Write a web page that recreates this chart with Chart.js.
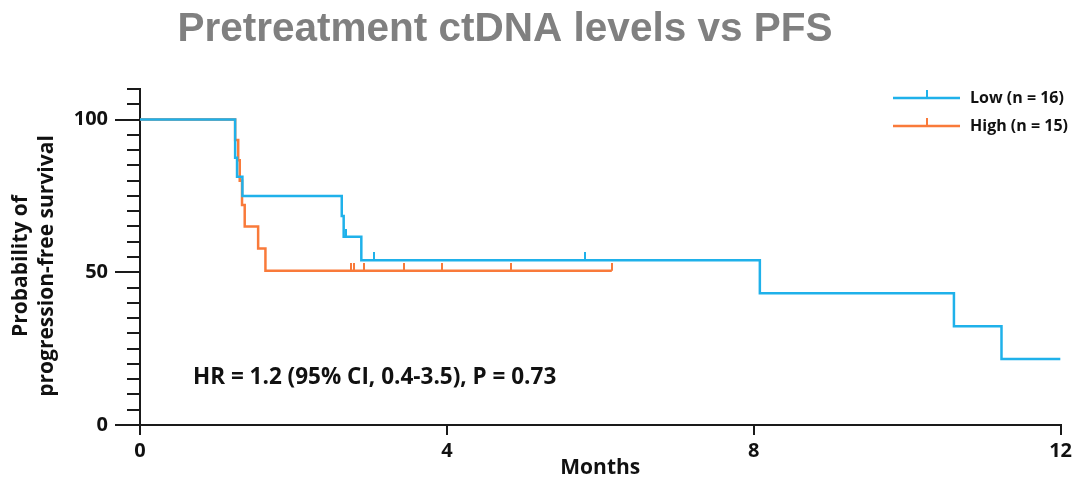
<!DOCTYPE html>
<html>
<head>
<meta charset="utf-8">
<script src="https://cdn.jsdelivr.net/npm/chart.js@4.4.1/dist/chart.umd.min.js"></script>
<style>
  html, body { margin: 0; padding: 0; background: #fff; }
  canvas { display: block; }
</style>
</head>
<body>
<canvas id="km" width="1076" height="481"></canvas>
<script>
// ============================================================
// DATOS
// ============================================================

// Curva Low (n = 16): tiempo de cada escalón y supervivencia tras él
const lowMonths = [0, 1.24, 1.265, 1.335, 2.63, 2.655, 2.885, 8.08, 10.61, 11.23, 12];
const lowSurv   = [100, 87.5, 81.3, 75, 68.4, 61.6, 53.9, 43.1, 32.3, 21.6, 21.6];
const lowCensorMonths = [2.68, 3.05, 5.80];
const lowCensorSurv   = [61.6, 53.9, 53.9];

// Curva High (n = 15)
const highMonths = [0, 1.24, 1.28, 1.30, 1.33, 1.365, 1.54, 1.635, 6.15];
const highSurv   = [100, 93.3, 86.7, 80, 72, 65, 57.8, 50.5, 50.5];
const highCensorMonths = [2.755, 2.785, 2.92, 3.44, 3.94, 4.83, 6.15];
const highCensorSurv   = [50.5, 50.5, 50.5, 50.5, 50.5, 50.5, 50.5];

const seriesLabels = ['Low (n = 16)', 'High (n = 15)'];
const xTicks = [0, 4, 8, 12];
const yMajorTicks = [0, 50, 100];

const TITLE = 'Pretreatment ctDNA levels vs PFS';
const NOTE = 'HR = 1.2 (95% CI, 0.4-3.5), P = 0.73';
const Y_TITLE = ['Probability of', 'progression-free survival'];

// ============================================================
// ESTILO
// ============================================================
const BLUE = '#1FB1EA';
const ORANGE = '#F97A3A';
const AXIS = '#1a1a1a';
const FONT = "'Open Sans', 'DejaVu Sans', sans-serif";
const LINE_W = 2.5;

/** Marca de censura: trazo vertical hacia arriba */
function censorMark(color) {
  const c = document.createElement('canvas');
  c.width = 2;
  c.height = 16;
  const g = c.getContext('2d');
  g.fillStyle = color;
  g.fillRect(0, 0, 2, 8);
  return c;
}

const toPoints = (xs, ys) => xs.map((x, i) => ({ x, y: ys[i] }));

function stepDataset(label, xs, ys, color) {
  return {
    label,
    data: toPoints(xs, ys),
    showLine: true,
    stepped: true,
    borderColor: color,
    borderWidth: LINE_W,
    pointRadius: 0,
    pointHoverRadius: 0,
  };
}

function censorDataset(xs, ys, color) {
  return {
    label: '',
    data: toPoints(xs, ys),
    showLine: false,
    pointStyle: censorMark(color),
    pointRadius: 3,
    pointHoverRadius: 3,
  };
}

// ============================================================
// DECORACIÓN: título, leyenda, nota, título Y y ticks mayores
// ============================================================
const decorPlugin = {
  id: 'decor',
  afterDraw(chart) {
    const { ctx } = chart;
    const yScale = chart.scales.y;
    ctx.save();

    // Ticks mayores del eje Y (más largos)
    ctx.strokeStyle = AXIS;
    ctx.lineWidth = 2;
    yMajorTicks.forEach(v => {
      const py = Math.round(yScale.getPixelForValue(v));
      ctx.beginPath();
      ctx.moveTo(115, py);
      ctx.lineTo(128, py);
      ctx.stroke();
    });

    // Título
    ctx.font = "bold 40.5px 'Liberation Sans', Arial, sans-serif";
    ctx.fillStyle = '#808080';
    ctx.textAlign = 'center';
    ctx.textBaseline = 'middle';
    ctx.fillText(TITLE, 505, 30);

    // Título del eje Y (dos líneas, rotado)
    ctx.save();
    ctx.translate(0, 266);
    ctx.rotate(-Math.PI / 2);
    ctx.font = `bold 21px ${FONT}`;
    ctx.fillStyle = '#111';
    ctx.fillText(Y_TITLE[0], 0, 21);
    ctx.fillText(Y_TITLE[1], 0, 47);
    ctx.restore();

    // Leyenda
    const colors = [BLUE, ORANGE];
    ctx.font = `bold 16px ${FONT}`;
    ctx.textAlign = 'left';
    seriesLabels.forEach((label, i) => {
      const ly = 98 + i * 28;
      ctx.strokeStyle = colors[i];
      ctx.lineWidth = LINE_W;
      ctx.beginPath();
      ctx.moveTo(893, ly);
      ctx.lineTo(960, ly);
      ctx.stroke();
      ctx.lineWidth = 2;
      ctx.beginPath();
      ctx.moveTo(927, ly);
      ctx.lineTo(927, ly - 8);
      ctx.stroke();
      ctx.fillStyle = '#111';
      ctx.fillText(label, 970, ly);
    });

    // Nota HR
    ctx.font = `bold 22.5px ${FONT}`;
    ctx.fillStyle = '#111';
    ctx.fillText(NOTE, 193, 378);

    ctx.restore();
  },
};

// ============================================================
// GRÁFICO
// ============================================================
new Chart(document.getElementById('km'), {
  type: 'scatter',
  data: {
    datasets: [
      stepDataset(seriesLabels[0], lowMonths, lowSurv, BLUE),
      censorDataset(lowCensorMonths, lowCensorSurv, BLUE),
      stepDataset(seriesLabels[1], highMonths, highSurv, ORANGE),
      censorDataset(highCensorMonths, highCensorSurv, ORANGE),
    ],
  },
  options: {
    responsive: false,
    animation: false,
    layout: { padding: { top: 89, right: 14, left: 0, bottom: 0 } },
    plugins: {
      legend: { display: false },
      tooltip: { enabled: false },
      title: { display: false },
    },
    scales: {
      x: {
        type: 'linear',
        min: 0,
        max: 12,
        afterBuildTicks(scale) {
          scale.ticks = xTicks.map(value => ({ value }));
        },
        afterFit(scale) { scale.height = 56; },
        grid: {
          drawOnChartArea: false,
          drawTicks: true,
          tickLength: 10,
          color: AXIS,
          lineWidth: 2,
        },
        border: { display: true, color: AXIS, width: 2 },
        ticks: {
          padding: 4,
          color: '#111',
          font: { family: FONT, size: 20, weight: 'bold' },
        },
        title: {
          display: true,
          text: 'Months',
          color: '#111',
          padding: { top: 0, bottom: 0 },
          font: { family: FONT, size: 21, weight: 'bold' },
        },
      },
      y: {
        min: 0,
        max: 110,
        afterFit(scale) { scale.width = 140; },
        grid: {
          drawOnChartArea: false,
          drawTicks: true,
          tickLength: 13,
          color: AXIS,
          lineWidth: 2,
        },
        border: { display: true, color: AXIS, width: 2 },
        ticks: {
          stepSize: 5,
          autoSkip: false,
          padding: 19,
          color: '#111',
          font: { family: FONT, size: 20, weight: 'bold' },
          callback: v => (yMajorTicks.includes(v) ? String(v) : ''),
        },
        title: { display: false },
      },
    },
  },
  plugins: [decorPlugin],
});
</script>
</body>
</html>
